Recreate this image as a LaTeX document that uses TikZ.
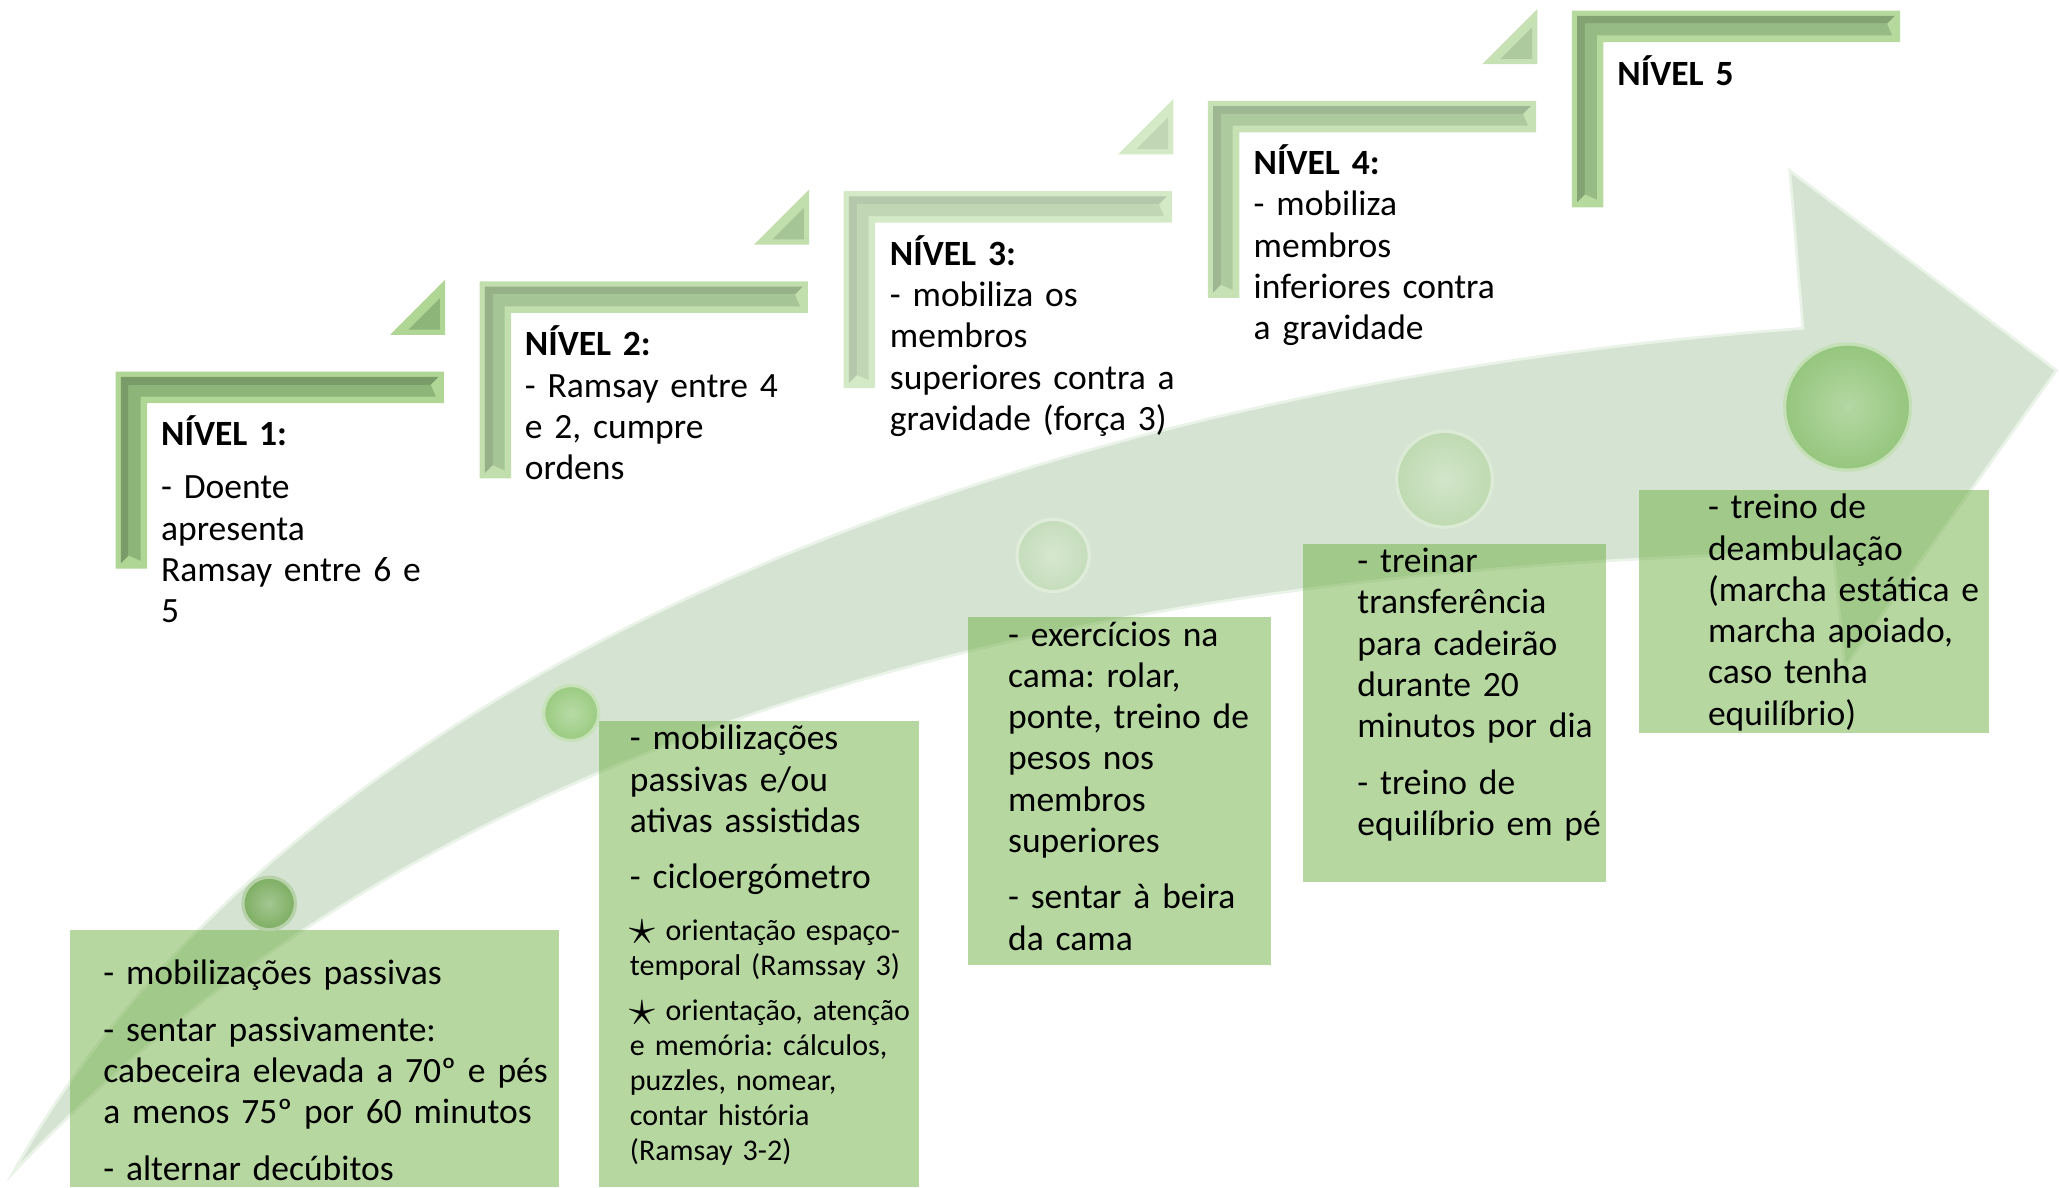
\documentclass[tikz,border=0pt]{standalone}
\usepackage{fontspec}
\setmainfont{Carlito}
\frenchspacing
\definecolor{cshaft}{HTML}{D5E4D2}
\definecolor{crim}{HTML}{EAF3E8}
\definecolor{cbox}{HTML}{6FAF43}
\definecolor{cface}{HTML}{8DB579}
\definecolor{clight}{HTML}{B0D696}
\definecolor{cdark}{HTML}{789B67}
\definecolor{cdotA}{HTML}{7DAE62}
\definecolor{cdotB}{HTML}{9ACB80}
\definecolor{cdotC}{HTML}{C5DDBB}
\definecolor{cdotD}{HTML}{BFDAB2}
\definecolor{cdotE}{HTML}{95C67D}
\newcommand{\bulletstar}{\raisebox{-0.3ex}{\scalebox{1.9}{$\star$}}}
\tikzset{
  every picture/.style={line width=0.8pt},
  body/.style={anchor=base west, inner sep=0pt, text width=9cm, align=left, font=\fontsize{15.4}{17.9}\selectfont},
  small/.style={body, font=\fontsize{13}{15.1}\selectfont},
  actbox/.style={fill=cbox, fill opacity=0.5},
  disc/.style 2 args={circle, inner sep=0pt, minimum size=#2, shade, inner color=#1!70!white, outer color=#1, draw=#1!55!white, line width=1.4pt},
}

\begin{document}
\begin{tikzpicture}[x=0.02cm, y=-0.02cm]
  \useasboundingbox (0,0) rectangle (1568,904);
  % curved arrow
  \filldraw[fill=cshaft, draw=crim, line width=1.2pt] (10,893) .. controls (200,550) and (700,300) .. (1373,250)
    -- (1363,130) -- (1566,282) -- (1405,508) -- (1396,420)
    .. controls (1000,430) and (400,480) .. (10,893) -- cycle;
  % activity boxes
  \fill[actbox] (53,708) rectangle (426,904);
  \fill[actbox] (456,549) rectangle (700,904);
  \fill[actbox] (737,470) rectangle (968,735);
  \fill[actbox] (992,414) rectangle (1223,672);
  \fill[actbox] (1248,373) rectangle (1515,558);
  \node[disc={cdotA}{0.8cm}] (s1) at (205,688) {};
  \node[disc={cdotB}{0.84cm}] (s2) at (435,543) {};
  \node[disc={cdotC}{1.1cm}] (s3) at (802,423) {};
  \node[disc={cdotD}{1.46cm}] (s4) at (1100,365) {};
  \node[disc={cdotE}{1.92cm}] (s5) at (1407,310) {};
  % level frames
  \foreach \i/\tone in {0/100, 1/78, 2/55, 3/72, 4/92} {
    \begin{scope}[shift={({88+277.25*\i},{283-68.75*\i})}]
      \fill[clight!\tone!white] (0,0) -- (250,0) -- (250,24) -- (24,24) -- (24,150) -- (0,150) -- cycle;
      \fill[cdark!\tone!white] (4,4) -- (246,4) -- (240,10) -- (10,10) -- (10,140) -- (4,146) -- cycle;
      \fill[cface!\tone!white] (10,10) -- (240,10) -- (244,19) -- (19,19) -- (19,144) -- (10,140) -- cycle;
      \ifnum\i<4
        \fill[clight!\tone!white] (209,-28) -- (251,-70) -- (251,-28) -- cycle;
        \fill[cface!\tone!white] (223,-32) -- (247,-56) -- (247,-32) -- cycle;
      \fi
    \end{scope}
  }
  \node[body] (n1) at (122,339) {\textbf{NÍVEL 1:}\\[5.4pt]- Doente\\apresenta\\Ramsay entre 6 e\\5};
  \node[body] (n2) at (399,271) {\textbf{NÍVEL 2:}\\- Ramsay entre 4\\e 2, cumpre\\ordens};
  \node[body] (n3) at (677,202) {\textbf{NÍVEL 3:}\\- mobiliza os\\membros\\superiores contra a\\gravidade (força 3)};
  \node[body] (n4) at (954,133) {\textbf{NÍVEL 4:}\\- mobiliza\\membros\\inferiores contra\\a gravidade};
  \node[body] (n5) at (1231,65) {\textbf{NÍVEL 5}};
  \node[body] (a1) at (78,750) {- mobilizações passivas\\[6.5pt]- sentar passivamente:\\cabeceira elevada a 70º e pés\\a menos 75º por 60 minutos\\[6.5pt]- alternar decúbitos};
  \node[body] (a2) at (479,571) {- mobilizações\\passivas e/ou\\ativas assistidas\\[6.5pt]- cicloergómetro};
  \node[small] (a2b) at (479,716) {\bulletstar{} orientação espaço-\\temporal (Ramssay 3)\\[4.8pt]\bulletstar{} orientação, atenção\\e memória: cálculos,\\puzzles, nomear,\\contar história\\(Ramsay 3-2)};
  \node[body] (a3) at (767,492) {- exercícios na\\cama: rolar,\\ponte, treino de\\pesos nos\\membros\\superiores\\[6.5pt]- sentar à beira\\da cama};
  \node[body] (a4) at (1033,436) {- treinar\\transferência\\para cadeirão\\durante 20\\minutos por dia\\[6.5pt]- treino de\\equilíbrio em pé};
  \node[body] (a5) at (1300,395) {- treino de\\deambulação\\(marcha estática e\\marcha apoiado,\\caso tenha\\equilíbrio)};
\end{tikzpicture}
\end{document}
